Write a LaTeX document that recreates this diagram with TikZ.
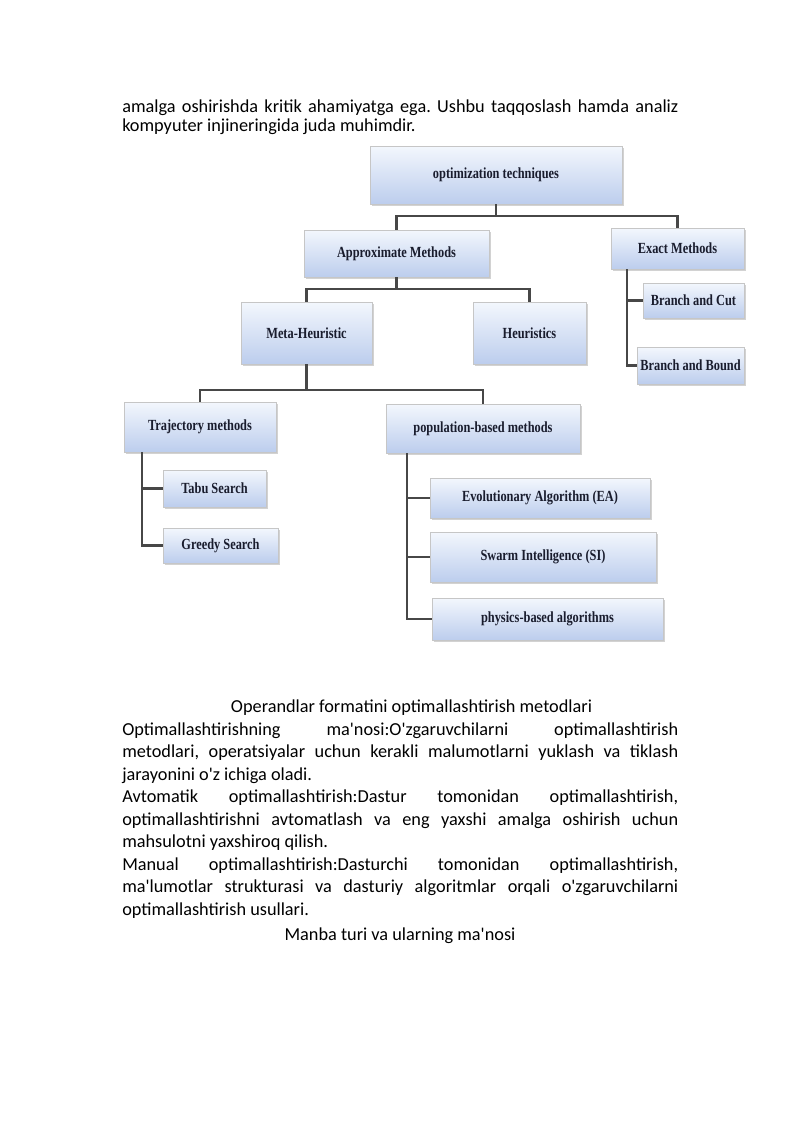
\documentclass[tikz,border=0pt]{standalone}
\usepackage{fontspec}
\setmainfont{Carlito}
\newfontfamily\boxfont[FakeStretch=0.8]{Liberation Serif}
\usetikzlibrary{shadows,calc}
\newcommand\mybox[6]{\node[bx, minimum width={(#4-#2)*0.7441pt}, minimum height={(#5-#3)*0.7441pt}] (#1) at ({(#2+#4)/2},{(#3+#5)/2}) {#6};}
\newcommand\jline[3]{\node[body, anchor=base west] (#1) at (122,#2) {\makebox[413.7pt][s]{#3}};}
\newcommand\lline[3]{\node[body, anchor=base west] (#1) at (122,#2) {#3};}
\newcommand\aq{\textquotesingle}
\begin{document}
\frenchspacing
\begin{tikzpicture}[x=0.7441pt,y=-0.7441pt,
  bx/.style={draw=gray!45, line width=0.5pt,
    top color={rgb,255:red,243;green,247;blue,253},
    bottom color={rgb,255:red,188;green,205;blue,237},
    drop shadow={shadow xshift=1.2pt, shadow yshift=-1.5pt, fill=gray!70},
    font=\boxfont\bfseries\fontsize{11.5}{12}\selectfont, text={rgb,255:red,25;green,28;blue,45},
    inner sep=0pt, anchor=center},
  ln/.style={draw=black!72, line width=1.6pt},
  body/.style={font=\fontsize{13.6}{16}\selectfont, inner sep=0pt, text=black}
]
\useasboundingbox[fill=white] (0,0) rectangle (800,1131);

% top text
\jline{t1}{112}{amalga oshirishda kritik ahamiyatga ega. Ushbu taqqoslash hamda analiz}
\lline{t2}{131}{kompyuter injineringida juda muhimdir.}

% boxes
\mybox{ot}{370}{146}{622}{204}{optimization techniques}
\mybox{am}{304}{230}{489}{277}{Approximate Methods}
\mybox{em}{611}{228}{744}{269}{Exact Methods}
\mybox{bc}{643}{283}{744}{318}{Branch and Cut}
\mybox{bb}{637}{347}{744}{384}{Branch and Bound}
\mybox{mh}{241}{302}{372}{364}{Meta-Heuristic}
\mybox{he}{473}{302}{586}{364}{Heuristics}
\mybox{tm}{124}{402}{276}{452}{Trajectory methods}
\mybox{pb}{386}{404}{580}{453}{population-based methods}
\mybox{ts}{163}{470}{266}{507}{Tabu Search}
\mybox{gs}{163}{528}{278}{563}{Greedy Search}
\mybox{ea}{430}{478}{650}{518}{Evolutionary Algorithm (EA)}
\mybox{si}{430}{532}{656}{582}{Swarm Intelligence (SI)}
\mybox{pa}{432}{598}{663}{640}{physics-based algorithms}

\coordinate (c0) at (ot.south |- 0,216);
\coordinate (c1) at (am.south |- 0,289);
\coordinate (c2) at (mh.south |- 0,390);

% connectors
\draw[ln] (ot.south) -- (c0);
\draw[ln] (c0) -| (am.north);
\draw[ln] (c0) -| (em.north);
\draw[ln] (am.south) -- (c1);
\draw[ln] (c1) -| (mh.north);
\draw[ln] (c1) -| (he.north);
\draw[ln] (mh.south) -- (c2);
\draw[ln] (c2) -| (tm.north);
\draw[ln] (c2) -| (pb.north);
\draw[ln] ($(em.south west)+(16,0)$) |- (bc.west);
\draw[ln] ($(em.south west)+(16,0)$) |- (bb.west);
\draw[ln] ($(tm.south west)+(18,0)$) |- (ts.west);
\draw[ln] ($(tm.south west)+(18,0)$) |- (gs.west);
\draw[ln] ($(pb.south west)+(21,0)$) |- (ea.west);
\draw[ln] ($(pb.south west)+(21,0)$) |- (si.west);
\draw[ln] ($(pb.south west)+(21,0)$) |- (pa.west);

% bottom text
\node[body, anchor=base] (cap1) at (411.5,712) {Operandlar formatini optimallashtirish metodlari};
\jline{p1}{735}{Optimallashtirishning ma\aq nosi:O\aq zgaruvchilarni optimallashtirish}
\jline{p2}{757}{metodlari, operatsiyalar uchun kerakli malumotlarni yuklash va tiklash}
\lline{p3}{780}{jarayonini o\aq z ichiga oladi.}
\jline{p4}{802}{Avtomatik optimallashtirish:Dastur tomonidan optimallashtirish,}
\jline{p5}{825}{optimallashtirishni avtomatlash va eng yaxshi amalga oshirish uchun}
\lline{p6}{847}{mahsulotni yaxshiroq qilish.}
\jline{p7}{870}{Manual optimallashtirish:Dasturchi tomonidan optimallashtirish,}
\jline{p8}{892}{ma\aq lumotlar strukturasi va dasturiy algoritmlar orqali o\aq zgaruvchilarni}
\lline{p9}{915}{optimallashtirish usullari.}
\node[body, anchor=base] (cap2) at (400,940) {Manba turi va ularning ma\aq nosi};
\end{tikzpicture}
\end{document}
